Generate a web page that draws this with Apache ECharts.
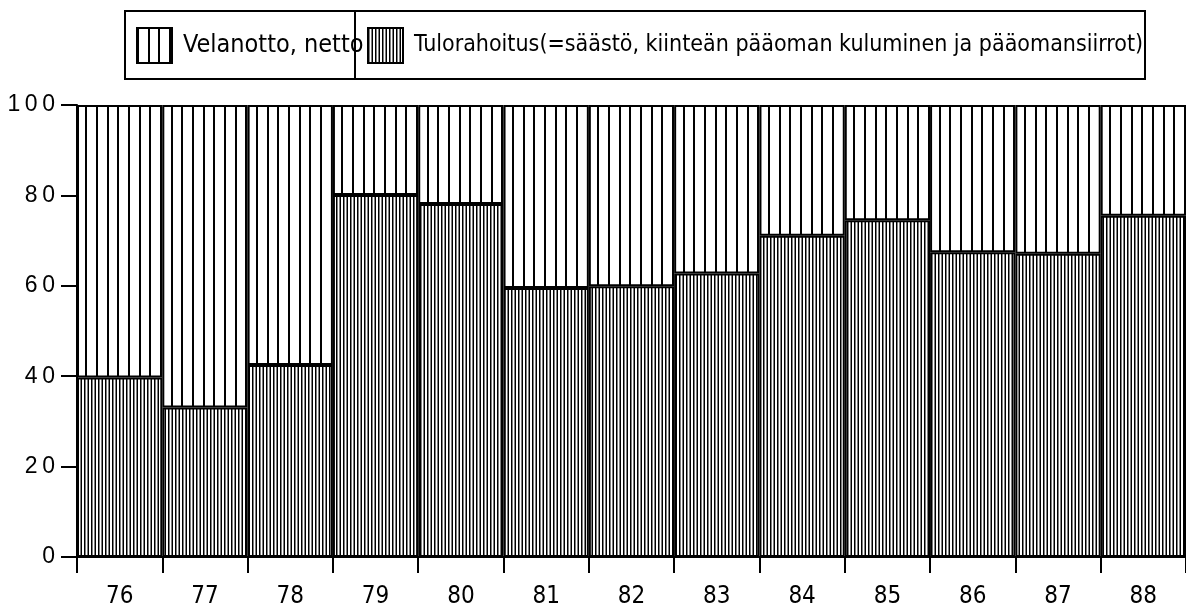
<!DOCTYPE html>
<html>
<head>
<meta charset="utf-8">
<title>Velanotto ja tulorahoitus</title>
<script src="https://cdn.jsdelivr.net/npm/echarts@6/dist/echarts.min.js"></script>
<style>
  html, body { margin: 0; padding: 0; background: #fff; }
  #chart { width: 1186px; height: 610px; }
</style>
</head>
<body>
<div id="chart"></div>
<script>
// vuodet 1976-1988
const years = ['76', '77', '78', '79', '80', '81', '82', '83', '84', '85', '86', '87', '88']
// osuudet prosentteina, luettu kuvasta
const tulorahoitus = [39.7, 33.1, 42.5, 80.1, 78.1, 59.5, 59.9, 62.7, 71.1, 74.5, 67.4, 67.1, 75.5]
const velanotto = [60.3, 66.9, 57.5, 19.9, 21.9, 40.5, 40.1, 37.3, 28.9, 25.5, 32.6, 32.9, 24.5]
const yTicks = [0, 20, 40, 60, 80, 100]

const nameVela = 'Velanotto, netto'
const nameTulo = 'Tulorahoitus(=säästö, kiinteän pääoman kuluminen ja pääomansiirrot)'

const narrow = '"DejaVu Sans Condensed", "Liberation Sans Narrow", sans-serif'

// pystyviivoitus kuviona
const makeHatch = (tileW, lines, lineW) => {
  const c = document.createElement('canvas')
  c.width = tileW
  c.height = 8
  const ctx = c.getContext('2d')
  ctx.fillStyle = '#fff'
  ctx.fillRect(0, 0, tileW, 8)
  ctx.fillStyle = '#000'
  lines.forEach((x) => ctx.fillRect(x, 0, lineW, 8))
  return c
}
const sparse = makeHatch(32, [0, 11, 21], 2)
const dense = makeHatch(7, [0, 3.5], 1.5)

const myEcharts = echarts.init(document.getElementById('chart'), null, { renderer: 'canvas' })

const option = {
  animation: false,
  backgroundColor: '#fff',
  grid: {
    left: 77,
    right: 0,
    top: 105,
    bottom: 53,
    containLabel: false
  },
  graphic: [
    {
      type: 'rect',
      shape: { x: 125, y: 11, width: 1020, height: 68 },
      style: { fill: 'none', stroke: '#000', lineWidth: 2 },
      silent: true
    },
    {
      type: 'line',
      shape: { x1: 355, y1: 11, x2: 355, y2: 79 },
      style: { stroke: '#000', lineWidth: 2 },
      silent: true
    }
  ],
  legend: [
    {
      data: [nameVela],
      left: 136,
      top: 27,
      padding: 0,
      itemWidth: 35,
      itemHeight: 35,
      icon: 'rect',
      textStyle: { fontFamily: narrow, fontSize: 25, color: '#000', padding: [0, 0, 0, 6] }
    },
    {
      data: [nameTulo],
      left: 367,
      top: 27,
      padding: 0,
      itemWidth: 35,
      itemHeight: 35,
      icon: 'rect',
      textStyle: { fontFamily: narrow, fontSize: 23, color: '#000', padding: [0, 0, 0, 6] }
    }
  ],
  xAxis: {
    type: 'category',
    data: years,
    boundaryGap: true,
    axisLine: { show: true, lineStyle: { color: '#000', width: 2 } },
    axisTick: { show: true, alignWithLabel: false, length: 16, lineStyle: { color: '#000', width: 2 } },
    axisLabel: { margin: 28, fontFamily: narrow, fontSize: 24, color: '#000' },
    splitLine: { show: false }
  },
  yAxis: {
    type: 'value',
    min: yTicks[0],
    max: yTicks[yTicks.length - 1],
    interval: yTicks[1] - yTicks[0],
    axisLine: { show: true, lineStyle: { color: '#000', width: 2 } },
    axisTick: { show: true, length: 16, lineStyle: { color: '#000', width: 2 } },
    axisLabel: {
      margin: 22,
      fontFamily: '"Liberation Sans", sans-serif',
      fontSize: 23,
      color: '#000',
      formatter: (v) => String(v).split('').join('\u2009')
    },
    splitLine: { show: false }
  },
  series: [
    {
      name: nameTulo,
      type: 'bar',
      stack: 'osuus',
      barCategoryGap: 0,
      itemStyle: {
        color: { image: dense, repeat: 'repeat' },
        borderColor: '#000',
        borderWidth: 2
      },
      emphasis: { disabled: true },
      data: tulorahoitus
    },
    {
      name: nameVela,
      type: 'bar',
      stack: 'osuus',
      barCategoryGap: 0,
      itemStyle: {
        color: { image: sparse, repeat: 'repeat' },
        borderColor: '#000',
        borderWidth: 2
      },
      emphasis: { disabled: true },
      data: velanotto
    }
  ]
}

myEcharts.setOption(option)
</script>
</body>
</html>
